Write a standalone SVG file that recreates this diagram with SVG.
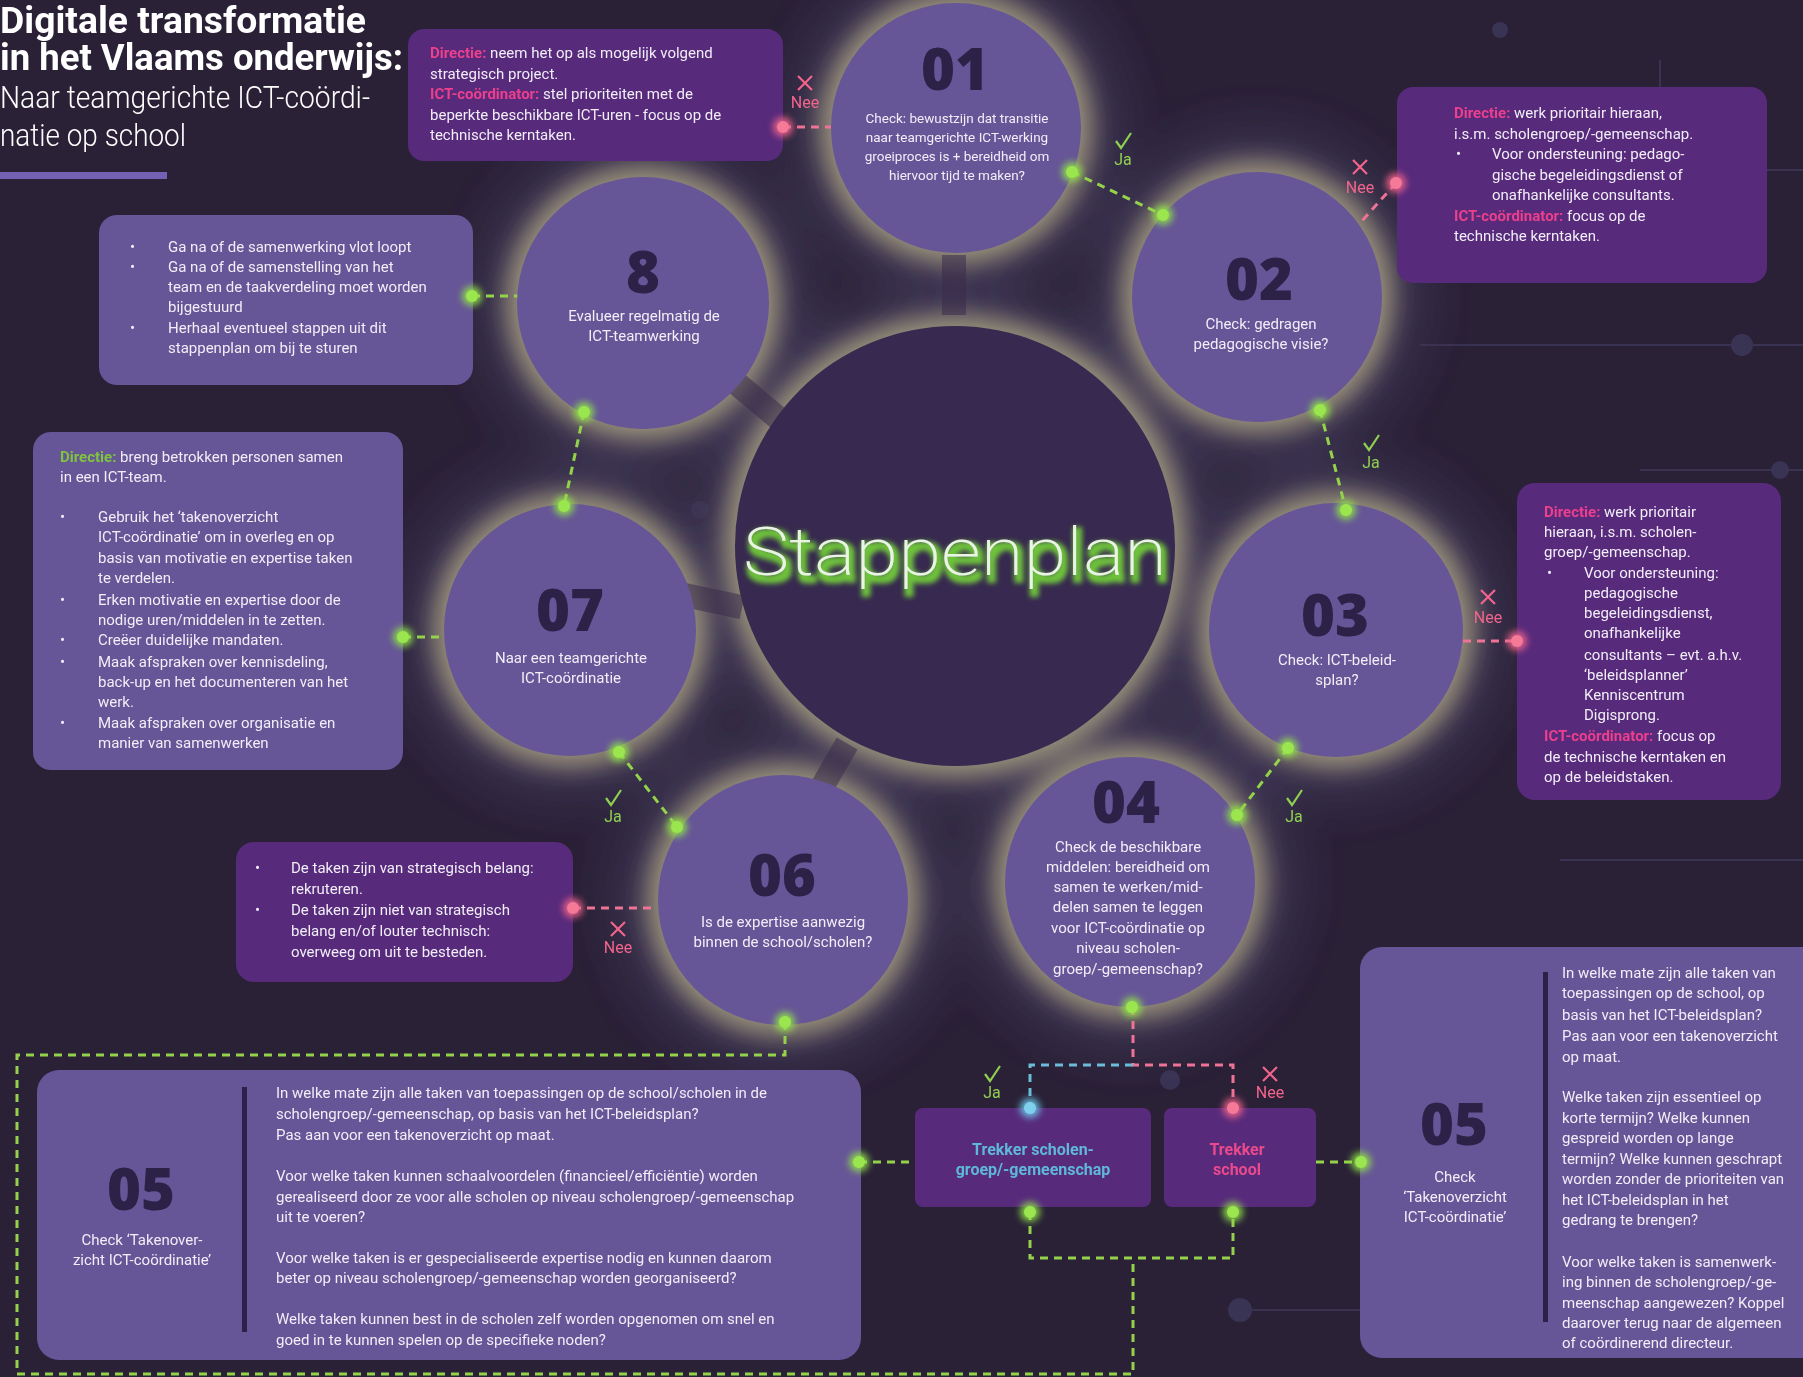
<svg xmlns="http://www.w3.org/2000/svg" width="1803" height="1377" viewBox="0 0 1803 1377">
<defs>
<style>
.t{font-family:Roboto,"Open Sans","Liberation Sans",sans-serif;font-size:15px;fill:#f1eef7}
.s13{font-size:13.5px}
.c{text-anchor:middle}
.b{font-weight:700}
.pk{fill:#ec3f8c}
.gr{fill:#7fc43f}
.num{font-family:"Open Sans","Liberation Sans",sans-serif;font-weight:800;font-size:58px;fill:#2c2146;text-anchor:middle}
.ttl{font-family:Roboto,"Liberation Sans",sans-serif;fill:#ffffff}
.dg{stroke:#93d24a;stroke-width:3;stroke-dasharray:8 6;fill:none}
.dp{stroke:#ee7394;stroke-width:3;stroke-dasharray:8 6;fill:none}
.db{stroke:#6cbcd9;stroke-width:3;stroke-dasharray:8 6;fill:none}
.node{fill:#665597}
.boxp{fill:#572a7b}
.boxl{fill:#665597}
.lab{font-family:Roboto,"Liberation Sans",sans-serif;font-size:16px;text-anchor:middle}
.ja{fill:#8fd050}
.nee{fill:#f2648c}
.chk{stroke:#8fd050;stroke-width:2.2;fill:none}
.xx{stroke:#f2648c;stroke-width:2.2;fill:none}
.bg{stroke:#3a3251;stroke-width:2;fill:none}
.bgn{fill:#3a3454}
</style>
<filter id="blur12" x="-50%" y="-50%" width="200%" height="200%"><feGaussianBlur stdDeviation="12"/></filter>
<filter id="blur25" x="-50%" y="-50%" width="200%" height="200%"><feGaussianBlur stdDeviation="25"/></filter>
<filter id="glow" x="-100%" y="-100%" width="300%" height="300%"><feGaussianBlur stdDeviation="3.5"/></filter>
<filter id="neon" x="-10%" y="-40%" width="120%" height="180%">
<feMorphology in="SourceAlpha" operator="dilate" radius="2.5" result="d"/>
<feGaussianBlur in="d" stdDeviation="2.8" result="b"/>
<feOffset in="b" dx="3" dy="5" result="o"/>
<feFlood flood-color="#6ec23c"/>
<feComposite in2="o" operator="in" result="g"/>
<feMerge><feMergeNode in="g"/><feMergeNode in="SourceGraphic"/></feMerge>
</filter>
</defs>

<rect width="1803" height="1377" fill="#2a2137"/>

<g id="background">
<path class="bg" d="M1590 170H1803M1420 345H1803M1640 470H1803M1330 207L1290 250M1560 860H1803M1240 1310H1360M1660 140V60"/>
<circle class="bgn" cx="1742" cy="345" r="11"/>
<circle class="bgn" cx="1780" cy="470" r="9"/>
<circle class="bgn" cx="1500" cy="30" r="8"/>
<circle class="bgn" cx="1240" cy="1310" r="12"/>
<circle class="bgn" cx="700" cy="510" r="9"/>
<circle class="bgn" cx="1170" cy="1080" r="10"/>
</g>

<g id="halo">
<g filter="url(#blur25)" fill="#3d3552">
<circle cx="956" cy="128" r="165"/><circle cx="1257" cy="297" r="165"/><circle cx="1336" cy="630" r="167"/>
<circle cx="1130" cy="882" r="165"/><circle cx="783" cy="900" r="165"/><circle cx="570" cy="630" r="166"/>
<circle cx="643" cy="303" r="166"/><circle cx="955" cy="546" r="255"/>
</g>
<g filter="url(#blur12)" fill="#b3ab86" opacity="0.8">
<circle cx="956" cy="128" r="136"/><circle cx="1257" cy="297" r="136"/><circle cx="1336" cy="630" r="138"/>
<circle cx="1130" cy="882" r="136"/><circle cx="783" cy="900" r="136"/><circle cx="570" cy="630" r="137"/>
<circle cx="643" cy="303" r="137"/><circle cx="955" cy="546" r="231"/>
</g>
<g fill="#3a2c4c" opacity="0.55">
<rect x="942" y="255" width="24" height="60"/>
<rect x="745" y="370" width="24" height="60" transform="rotate(-50 758 400)"/>
<rect x="700" y="570" width="24" height="60" transform="rotate(-78 713 600)"/>
<rect x="820" y="740" width="24" height="60" transform="rotate(30 833 770)"/>
</g>
</g>

<g id="title">
<text class="ttl" x="0" y="33" font-size="36" font-weight="700" textLength="366" lengthAdjust="spacingAndGlyphs">Digitale transformatie</text>
<text class="ttl" x="0" y="70" font-size="36" font-weight="700" textLength="403" lengthAdjust="spacingAndGlyphs">in het Vlaams onderwijs:</text>
<text class="ttl" x="0" y="108" font-size="31" font-weight="300" textLength="370" lengthAdjust="spacingAndGlyphs">Naar teamgerichte ICT-coördi-</text>
<text class="ttl" x="0" y="146" font-size="31" font-weight="300" textLength="186" lengthAdjust="spacingAndGlyphs">natie op school</text>
<rect x="0" y="172" width="167" height="7" fill="#7362b4"/>
</g>

<g id="connectors">
<path class="dg" d="M1072 172L1163 215"/>
<path class="dg" d="M1320 410L1346 510"/>
<path class="dg" d="M1288 748L1237 815"/>
<path class="dg" d="M619 752L677 827"/>
<path class="dg" d="M584 412L564 506"/>
<path class="dg" d="M472 296H518"/>
<path class="dg" d="M403 637H444"/>
<path class="dg" d="M785 1022V1055H17V1374H1133V1258"/>
<path class="dg" d="M1030 1212V1258H1233V1212"/>
<path class="dg" d="M859 1162H915"/>
<path class="dg" d="M1316 1162H1361"/>
<path class="dp" d="M783 127H831"/>
<path class="dp" d="M1396 183L1360 223"/>
<path class="dp" d="M1463 641H1517"/>
<path class="dp" d="M573 908H656"/>
<path class="dp" d="M1133 1007V1065H1233V1108"/>
<path class="db" d="M1133 1065H1030V1108"/>
</g>

<g id="center">
<circle cx="955" cy="546" r="220" fill="#37294f"/>
<text x="955" y="575" font-family="Roboto,'Liberation Sans',sans-serif" font-size="66" font-weight="200" fill="#eaf4e2" filter="url(#neon)" textLength="424" lengthAdjust="spacingAndGlyphs" text-anchor="middle">Stappenplan</text>
</g>

<g id="step01">
<circle class="node" cx="956" cy="128" r="125"/>
<text class="num" x="955" y="90">01</text>
<text class="t s13 c" x="957" y="123">Check: bewustzijn dat transitie</text>
<text class="t s13 c" x="957" y="142">naar teamgerichte ICT-werking</text>
<text class="t s13 c" x="957" y="161">groeiproces is + bereidheid om</text>
<text class="t s13 c" x="957" y="180">hiervoor tijd te maken?</text>
</g>

<g id="step02">
<circle class="node" cx="1257" cy="297" r="125"/>
<text class="num" x="1259" y="300">02</text>
<text class="t c" x="1261" y="329">Check: gedragen</text>
<text class="t c" x="1261" y="349">pedagogische visie?</text>
</g>

<g id="step03">
<circle class="node" cx="1336" cy="630" r="127"/>
<text class="num" x="1335" y="636">03</text>
<text class="t c" x="1337" y="665">Check: ICT-beleid-</text>
<text class="t c" x="1337" y="685">splan?</text>
</g>

<g id="step04">
<circle class="node" cx="1130" cy="882" r="125"/>
<text class="num" x="1126" y="823">04</text>
<text class="t c" x="1128" y="852">Check de beschikbare</text>
<text class="t c" x="1128" y="872">middelen: bereidheid om</text>
<text class="t c" x="1128" y="892">samen te werken/mid-</text>
<text class="t c" x="1128" y="912">delen samen te leggen</text>
<text class="t c" x="1128" y="933">voor ICT-coördinatie op</text>
<text class="t c" x="1128" y="953">niveau scholen-</text>
<text class="t c" x="1128" y="974">groep/-gemeenschap?</text>
</g>

<g id="step06">
<circle class="node" cx="783" cy="900" r="125"/>
<text class="num" x="782" y="896">06</text>
<text class="t c" x="783" y="927">Is de expertise aanwezig</text>
<text class="t c" x="783" y="947">binnen de school/scholen?</text>
</g>

<g id="step07">
<circle class="node" cx="570" cy="630" r="126"/>
<text class="num" x="570" y="631">07</text>
<text class="t c" x="571" y="663">Naar een teamgerichte</text>
<text class="t c" x="571" y="683">ICT-coördinatie</text>
</g>

<g id="step08">
<circle class="node" cx="643" cy="303" r="126"/>
<text class="num" x="643" y="293">8</text>
<text class="t c" x="644" y="321">Evalueer regelmatig de</text>
<text class="t c" x="644" y="341">ICT-teamwerking</text>
</g>

<g id="boxA">
<rect class="boxp" x="408" y="29" width="375" height="132" rx="16"/>
<text class="t" x="430" y="58"><tspan class="b pk">Directie:</tspan> neem het op als mogelijk volgend</text>
<text class="t" x="430" y="79">strategisch project.</text>
<text class="t" x="430" y="99"><tspan class="b pk">ICT-coördinator:</tspan> stel prioriteiten met de</text>
<text class="t" x="430" y="120">beperkte beschikbare ICT-uren - focus op de</text>
<text class="t" x="430" y="140">technische kerntaken.</text>
</g>

<g id="boxB">
<rect class="boxp" x="1397" y="87" width="370" height="196" rx="16"/>
<text class="t" x="1454" y="118"><tspan class="b pk">Directie:</tspan> werk prioritair hieraan,</text>
<text class="t" x="1454" y="139">i.s.m. scholengroep/-gemeenschap.</text>
<text class="t" x="1456" y="159">•</text>
<text class="t" x="1492" y="159">Voor ondersteuning: pedago-</text>
<text class="t" x="1492" y="180">gische begeleidingsdienst of</text>
<text class="t" x="1492" y="200">onafhankelijke consultants.</text>
<text class="t" x="1454" y="221"><tspan class="b pk">ICT-coördinator:</tspan> focus op de</text>
<text class="t" x="1454" y="241">technische kerntaken.</text>
</g>

<g id="boxC">
<rect class="boxl" x="99" y="215" width="374" height="170" rx="18"/>
<text class="t" x="130" y="252">•</text><text class="t" x="168" y="252">Ga na of de samenwerking vlot loopt</text>
<text class="t" x="130" y="272">•</text><text class="t" x="168" y="272">Ga na of de samenstelling van het</text>
<text class="t" x="168" y="292">team en de taakverdeling moet worden</text>
<text class="t" x="168" y="312">bijgestuurd</text>
<text class="t" x="130" y="333">•</text><text class="t" x="168" y="333">Herhaal eventueel stappen uit dit</text>
<text class="t" x="168" y="353">stappenplan om bij te sturen</text>
</g>

<g id="boxD">
<rect class="boxl" x="33" y="432" width="370" height="338" rx="18"/>
<text class="t" x="60" y="462"><tspan class="b gr">Directie:</tspan> breng betrokken personen samen</text>
<text class="t" x="60" y="482">in een ICT-team.</text>
<text class="t" x="60" y="522">•</text><text class="t" x="98" y="522">Gebruik het ‘takenoverzicht</text>
<text class="t" x="98" y="542">ICT-coördinatie’ om in overleg en op</text>
<text class="t" x="98" y="563">basis van motivatie en expertise taken</text>
<text class="t" x="98" y="583">te verdelen.</text>
<text class="t" x="60" y="605">•</text><text class="t" x="98" y="605">Erken motivatie en expertise door de</text>
<text class="t" x="98" y="625">nodige uren/middelen in te zetten.</text>
<text class="t" x="60" y="645">•</text><text class="t" x="98" y="645">Creëer duidelijke mandaten.</text>
<text class="t" x="60" y="667">•</text><text class="t" x="98" y="667">Maak afspraken over kennisdeling,</text>
<text class="t" x="98" y="687">back-up en het documenteren van het</text>
<text class="t" x="98" y="707">werk.</text>
<text class="t" x="60" y="728">•</text><text class="t" x="98" y="728">Maak afspraken over organisatie en</text>
<text class="t" x="98" y="748">manier van samenwerken</text>
</g>

<g id="boxE">
<rect class="boxp" x="236" y="842" width="337" height="140" rx="18"/>
<text class="t" x="255" y="873">•</text><text class="t" x="291" y="873">De taken zijn van strategisch belang:</text>
<text class="t" x="291" y="894">rekruteren.</text>
<text class="t" x="255" y="915">•</text><text class="t" x="291" y="915">De taken zijn niet van strategisch</text>
<text class="t" x="291" y="936">belang en/of louter technisch:</text>
<text class="t" x="291" y="957">overweeg om uit te besteden.</text>
</g>

<g id="boxF">
<rect class="boxp" x="1517" y="483" width="264" height="317" rx="18"/>
<text class="t" x="1544" y="517"><tspan class="b pk">Directie:</tspan> werk prioritair</text>
<text class="t" x="1544" y="537">hieraan, i.s.m. scholen-</text>
<text class="t" x="1544" y="557">groep/-gemeenschap.</text>
<text class="t" x="1547" y="578">•</text><text class="t" x="1584" y="578">Voor ondersteuning:</text>
<text class="t" x="1584" y="598">pedagogische</text>
<text class="t" x="1584" y="618">begeleidingsdienst,</text>
<text class="t" x="1584" y="638">onafhankelijke</text>
<text class="t" x="1584" y="660">consultants – evt. a.h.v.</text>
<text class="t" x="1584" y="680">‘beleidsplanner’</text>
<text class="t" x="1584" y="700">Kenniscentrum</text>
<text class="t" x="1584" y="720">Digisprong.</text>
<text class="t" x="1544" y="741"><tspan class="b pk">ICT-coördinator:</tspan> focus op</text>
<text class="t" x="1544" y="762">de technische kerntaken en</text>
<text class="t" x="1544" y="782">op de beleidstaken.</text>
</g>

<g id="step05left">
<rect class="boxl" x="37" y="1070" width="824" height="290" rx="22"/>
<rect x="242" y="1087" width="5" height="245" fill="#2c2146"/>
<text class="num" x="141" y="1210">05</text>
<text class="t c" x="142" y="1245">Check ‘Takenover-</text>
<text class="t c" x="142" y="1265">zicht ICT-coördinatie’</text>
<text class="t" x="276" y="1098">In welke mate zijn alle taken van toepassingen op de school/scholen in de</text>
<text class="t" x="276" y="1119">scholengroep/-gemeenschap, op basis van het ICT-beleidsplan?</text>
<text class="t" x="276" y="1140">Pas aan voor een takenoverzicht op maat.</text>
<text class="t" x="276" y="1181">Voor welke taken kunnen schaalvoordelen (financieel/efficiëntie) worden</text>
<text class="t" x="276" y="1202">gerealiseerd door ze voor alle scholen op niveau scholengroep/-gemeenschap</text>
<text class="t" x="276" y="1222">uit te voeren?</text>
<text class="t" x="276" y="1263">Voor welke taken is er gespecialiseerde expertise nodig en kunnen daarom</text>
<text class="t" x="276" y="1283">beter op niveau scholengroep/-gemeenschap worden georganiseerd?</text>
<text class="t" x="276" y="1324">Welke taken kunnen best in de scholen zelf worden opgenomen om snel en</text>
<text class="t" x="276" y="1345">goed in te kunnen spelen op de specifieke noden?</text>
</g>

<g id="step05right">
<rect class="boxl" x="1360" y="947" width="470" height="411" rx="22"/>
<rect x="1543" y="972" width="5" height="350" fill="#2c2146"/>
<text class="num" x="1454" y="1145">05</text>
<text class="t c" x="1455" y="1182">Check</text>
<text class="t c" x="1455" y="1202">‘Takenoverzicht</text>
<text class="t c" x="1455" y="1222">ICT-coördinatie’</text>
<text class="t" x="1562" y="978">In welke mate zijn alle taken van</text>
<text class="t" x="1562" y="998">toepassingen op de school, op</text>
<text class="t" x="1562" y="1020">basis van het ICT-beleidsplan?</text>
<text class="t" x="1562" y="1041">Pas aan voor een takenoverzicht</text>
<text class="t" x="1562" y="1062">op maat.</text>
<text class="t" x="1562" y="1102">Welke taken zijn essentieel op</text>
<text class="t" x="1562" y="1123">korte termijn? Welke kunnen</text>
<text class="t" x="1562" y="1143">gespreid worden op lange</text>
<text class="t" x="1562" y="1164">termijn? Welke kunnen geschrapt</text>
<text class="t" x="1562" y="1184">worden zonder de prioriteiten van</text>
<text class="t" x="1562" y="1205">het ICT-beleidsplan in het</text>
<text class="t" x="1562" y="1225">gedrang te brengen?</text>
<text class="t" x="1562" y="1267">Voor welke taken is samenwerk-</text>
<text class="t" x="1562" y="1287">ing binnen de scholengroep/-ge-</text>
<text class="t" x="1562" y="1308">meenschap aangewezen? Koppel</text>
<text class="t" x="1562" y="1328">daarover terug naar de algemeen</text>
<text class="t" x="1562" y="1348">of coördinerend directeur.</text>
</g>

<g id="trekkerGroep">
<rect class="boxp" x="915" y="1108" width="236" height="99" rx="8"/>
<text class="lab b" x="1033" y="1155" fill="#5fb8d8">Trekker scholen-</text>
<text class="lab b" x="1033" y="1175" fill="#5fb8d8">groep/-gemeenschap</text>
</g>

<g id="trekkerSchool">
<rect class="boxp" x="1164" y="1108" width="152" height="99" rx="8"/>
<text class="lab b" x="1237" y="1155" fill="#ea4a8c">Trekker</text>
<text class="lab b" x="1237" y="1175" fill="#ea4a8c">school</text>
</g>

<g id="dots">
<g filter="url(#glow)" opacity="0.9">
<g fill="#8fe04a">
<circle cx="1072" cy="172" r="10"/><circle cx="1163" cy="215" r="10"/><circle cx="1320" cy="410" r="10"/><circle cx="1346" cy="510" r="10"/>
<circle cx="1288" cy="748" r="10"/><circle cx="1237" cy="815" r="10"/><circle cx="1132" cy="1007" r="10"/><circle cx="785" cy="1022" r="10"/>
<circle cx="677" cy="827" r="10"/><circle cx="619" cy="752" r="10"/><circle cx="564" cy="506" r="10"/><circle cx="584" cy="412" r="10"/>
<circle cx="472" cy="296" r="10"/><circle cx="403" cy="637" r="10"/><circle cx="859" cy="1162" r="10"/><circle cx="1361" cy="1162" r="10"/>
<circle cx="1030" cy="1212" r="10"/><circle cx="1233" cy="1212" r="10"/>
</g>
<g fill="#f2648c">
<circle cx="783" cy="127" r="10"/><circle cx="1396" cy="183" r="10"/><circle cx="1517" cy="641" r="10"/><circle cx="573" cy="908" r="10"/><circle cx="1233" cy="1108" r="10"/>
</g>
<circle cx="1030" cy="1108" r="10" fill="#6cc8e8"/>
</g>
<g fill="#9be64f">
<circle cx="1072" cy="172" r="6"/><circle cx="1163" cy="215" r="6"/><circle cx="1320" cy="410" r="6"/><circle cx="1346" cy="510" r="6"/>
<circle cx="1288" cy="748" r="6"/><circle cx="1237" cy="815" r="6"/><circle cx="1132" cy="1007" r="6"/><circle cx="785" cy="1022" r="6"/>
<circle cx="677" cy="827" r="6"/><circle cx="619" cy="752" r="6"/><circle cx="564" cy="506" r="6"/><circle cx="584" cy="412" r="6"/>
<circle cx="472" cy="296" r="6"/><circle cx="403" cy="637" r="6"/><circle cx="859" cy="1162" r="6"/><circle cx="1361" cy="1162" r="6"/>
<circle cx="1030" cy="1212" r="6"/><circle cx="1233" cy="1212" r="6"/>
</g>
<g fill="#f47a98">
<circle cx="783" cy="127" r="6"/><circle cx="1396" cy="183" r="6"/><circle cx="1517" cy="641" r="6"/><circle cx="573" cy="908" r="6"/><circle cx="1233" cy="1108" r="6"/>
</g>
<circle cx="1030" cy="1108" r="6" fill="#7fd0ec"/>
</g>

<g id="labels">
<path class="xx" d="M798 76L812 90M812 76L798 90"/><text class="lab nee" x="805" y="108">Nee</text>
<path class="chk" d="M1116 141L1121 148L1131 133"/><text class="lab ja" x="1123" y="165">Ja</text>
<path class="xx" d="M1353 160L1367 174M1367 160L1353 174"/><text class="lab nee" x="1360" y="193">Nee</text>
<path class="chk" d="M1364 443L1369 450L1379 435"/><text class="lab ja" x="1371" y="468">Ja</text>
<path class="xx" d="M1481 590L1495 604M1495 590L1481 604"/><text class="lab nee" x="1488" y="623">Nee</text>
<path class="chk" d="M1287 798L1292 805L1302 790"/><text class="lab ja" x="1294" y="822">Ja</text>
<path class="chk" d="M606 798L611 805L621 790"/><text class="lab ja" x="613" y="822">Ja</text>
<path class="xx" d="M611 922L625 936M625 922L611 936"/><text class="lab nee" x="618" y="953">Nee</text>
<path class="chk" d="M985 1074L990 1081L1000 1066"/><text class="lab ja" x="992" y="1098">Ja</text>
<path class="xx" d="M1263 1067L1277 1081M1277 1067L1263 1081"/><text class="lab nee" x="1270" y="1098">Nee</text>
</g>
</svg>
